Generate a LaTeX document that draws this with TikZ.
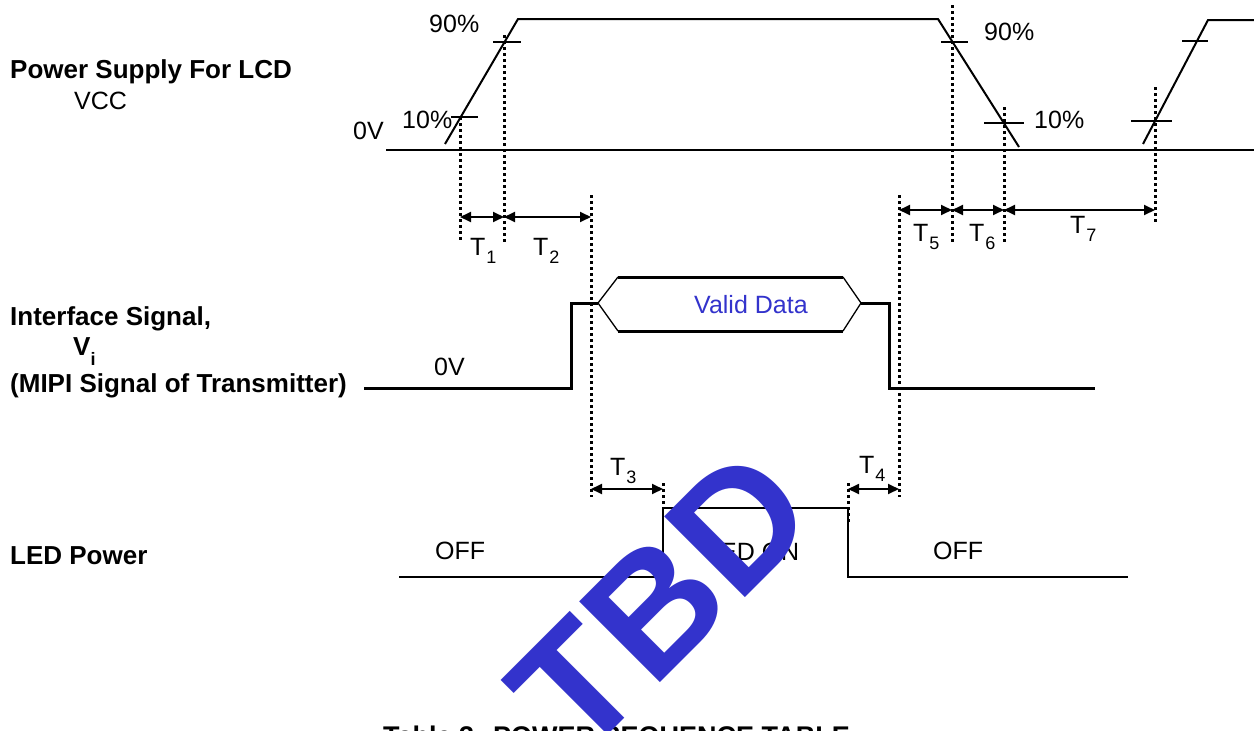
\documentclass[tikz,border=0pt]{standalone}
\usepackage{fontspec}
\setmainfont{Liberation Sans}
\usetikzlibrary{arrows.meta}
\definecolor{tbdblue}{RGB}{51,51,204}
\newcommand{\tsub}[1]{T\kern1pt\raisebox{-8pt}{\fontsize{18}{18}\selectfont #1}}
\begin{document}
\begin{tikzpicture}[x=1pt,y=-1pt,
  wave/.style={line width=2pt, line join=miter},
  sig/.style={line width=3pt},
  slant/.style={line width=1.3pt},
  dots/.style={line width=3pt, dash pattern=on 3pt off 3pt},
  tickmark/.style={line width=1.8pt},
  dim/.style={line width=1.8pt, {Triangle[length=11pt,width=10pt]}-{Triangle[length=11pt,width=10pt]}},
  lbl/.style={font=\fontsize{25}{28}\selectfont, inner sep=0pt, anchor=base west},
  blbl/.style={font=\bfseries\fontsize{26}{30}\selectfont, inner sep=0pt, anchor=base west}]
\useasboundingbox (0,0) rectangle (1254,731);
\clip (0,0) rectangle (1254,731);
\fill[white] (0,0) rectangle (1254,731);

% ---- left labels
\node[blbl] (psl) at (10,78) {Power Supply For LCD};
\node[lbl] (vcc) at (74,109) {VCC};
\node[blbl] (ifs) at (10,325) {Interface Signal,};
\node[blbl] (vi) at (73,355) {V\raisebox{-10pt}{\fontsize{18}{18}\selectfont i}};
\node[blbl] (mipi) at (10,392) {(MIPI Signal of Transmitter)};
\node[blbl] (led) at (10,564) {LED Power};

% ---- VCC waveform
\coordinate (b0) at (386,150); \coordinate (b1) at (1254,150);
\draw[wave] (b0) -- (b1);
\coordinate (r0) at (445,144); \coordinate (r1) at (518,19);
\coordinate (f0) at (938,19); \coordinate (f1) at (1019,147);
\draw[wave] (r0) -- (r1) -- (f0) -- (f1);
\coordinate (s0) at (1143,144); \coordinate (s1) at (1208,20); \coordinate (s2) at (1254,20);
\draw[wave] (s0) -- (s1) -- (s2);
\draw[tickmark] (451,117) -- (478,117);
\draw[tickmark] (493,42) -- (521,42);
\draw[tickmark] (941,42) -- (968,42);
\draw[tickmark] (984,123) -- (1024,123);
\draw[tickmark] (1131,121) -- (1172,121);
\draw[tickmark] (1182,41) -- (1208,41);

\node[lbl] (p90a) at (429,32) {90\%};
\node[lbl] (p10a) at (402,128) {10\%};
\node[lbl] (z0a) at (353,139) {0V};
\node[lbl] (p90b) at (984,40) {90\%};
\node[lbl] (p10b) at (1034,128) {10\%};

% ---- dotted timing markers
\draw[dots] (460,117) -- (460,242);
\draw[dots] (504,35) -- (504,243);
\draw[dots] (591,195) -- (591,497);
\draw[dots] (952,5) -- (952,243);
\draw[dots] (1004,107) -- (1004,243);
\draw[dots] (1155,87) -- (1155,223);
\draw[dots] (899,195) -- (899,497);
\draw[dots] (663,483) -- (663,508);
\draw[dots] (848,483) -- (848,523);

% ---- dimension arrows
\coordinate (a1) at (460,217); \coordinate (a2) at (504,217); \coordinate (a3) at (591,217);
\draw[dim] (a1) -- (a2);
\draw[dim] (a2) -- (a3);
\coordinate (c1) at (899,210); \coordinate (c2) at (952,210); \coordinate (c3) at (1004,210); \coordinate (c4) at (1155,210);
\draw[dim] (c1) -- (c2);
\draw[dim] (c2) -- (c3);
\draw[dim] (c3) -- (c4);
\coordinate (d1) at (591,489); \coordinate (d2) at (663,489);
\draw[dim] (d1) -- (d2);
\coordinate (e1) at (848,489); \coordinate (e2) at (899,489);
\draw[dim] (e1) -- (e2);

\node[lbl] (t1) at (470,255) {\tsub{1}};
\node[lbl] (t2) at (533,255) {\tsub{2}};
\node[lbl] (t3) at (610,475) {\tsub{3}};
\node[lbl] (t4) at (859,473) {\tsub{4}};
\node[lbl] (t5) at (913,241) {\tsub{5}};
\node[lbl] (t6) at (969,241) {\tsub{6}};
\node[lbl] (t7) at (1070,233) {\tsub{7}};

% ---- interface signal
\draw[sig] (364,388) -- (571,388) -- (571,303) -- (598,303);
\draw[slant] (618,277) -- (598,303) -- (618,331);
\draw[slant] (843,277) -- (861,303) -- (843,331);
\draw[sig] (618,277) -- (843,277);
\draw[sig] (618,331) -- (843,331);
\draw[sig] (861,303) -- (889,303) -- (889,388) -- (1095,388);
\node[lbl, text=tbdblue] (vd) at (694,313) {Valid Data};
\node[lbl] (z0b) at (434,375) {0V};

% ---- LED power
\draw[wave, line width=2.2pt] (399,577) -- (663,577) -- (663,508) -- (848,508) -- (848,577) -- (1128,577);
\node[lbl] (off1) at (435,559) {OFF};
\node[lbl] (ledon) at (706,560) {LED ON};
\node[lbl] (off2) at (933,559) {OFF};

% ---- caption (cut at bottom edge)
\node[font=\bfseries\fontsize{27}{30}\selectfont, inner sep=0pt, anchor=base west] (cap) at (383,745) {Table 3: POWER SEQUENCE TABLE};

% ---- watermark
\node[rotate=45, font=\bfseries\fontsize{166}{170}\selectfont, text=tbdblue, inner sep=0pt] (tbd) at (661,601) {TBD};
\end{tikzpicture}
\end{document}
